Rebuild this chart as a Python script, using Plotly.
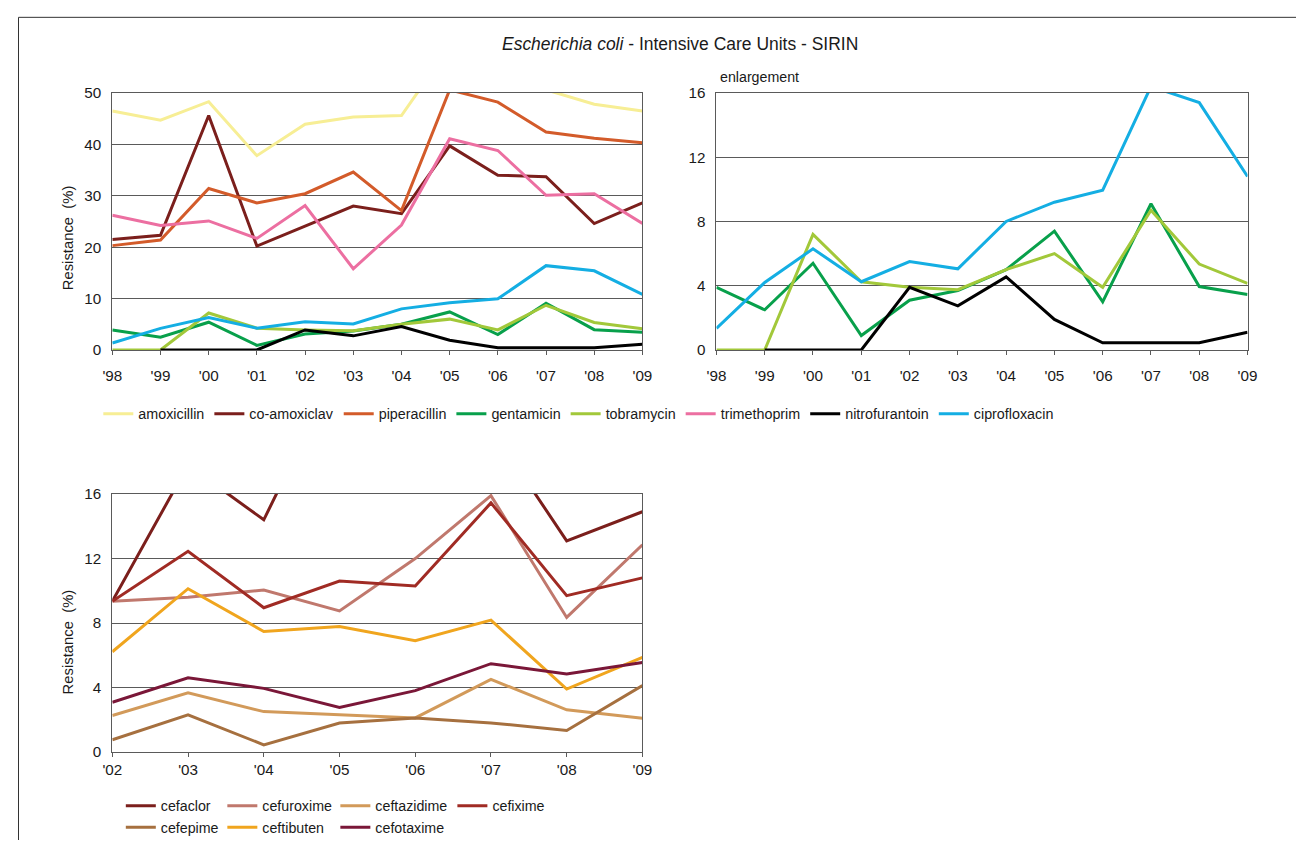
import plotly.graph_objects as go

# ---------------- data ----------------
years_top = ["'98", "'99", "'00", "'01", "'02", "'03", "'04", "'05", "'06", "'07", "'08", "'09"]
years_bottom = ["'02", "'03", "'04", "'05", "'06", "'07", "'08", "'09"]

amoxicillin = [46.5, 44.7, 48.3, 37.8, 43.9, 45.3, 45.6, 59.0, 57.0, 50.6, 47.8, 46.5]
co_amoxiclav = [21.5, 22.3, 45.6, 20.2, 24.1, 28.0, 26.5, 39.7, 34.0, 33.7, 24.6, 28.6]
piperacillin = [20.3, 21.4, 31.4, 28.6, 30.4, 34.6, 27.1, 50.6, 48.2, 42.4, 41.2, 40.3]
gentamicin = [3.9, 2.5, 5.4, 0.9, 3.1, 3.7, 5.0, 7.4, 3.0, 9.1, 3.95, 3.45]
tobramycin = [0.0, 0.0, 7.2, 4.25, 3.9, 3.75, 5.0, 6.0, 3.9, 8.7, 5.35, 4.15]
trimethoprim = [26.2, 24.2, 25.1, 21.7, 28.1, 15.8, 24.3, 41.1, 38.8, 30.1, 30.4, 24.6]
nitrofurantoin = [None, 0.0, 0.0, 0.0, 3.9, 2.75, 4.55, 1.9, 0.45, 0.45, 0.45, 1.1]
ciprofloxacin = [1.35, 4.2, 6.3, 4.25, 5.5, 5.05, 8.0, 9.2, 9.95, 16.4, 15.4, 10.8]

cefaclor = [9.35, 17.8, 14.4, 24.0, 22.0, 20.1, 13.1, 14.9]
cefuroxime = [9.35, 9.6, 10.05, 8.75, 12.0, 15.9, 8.35, 12.85]
ceftazidime = [2.27, 3.67, 2.51, 2.31, 2.12, 4.51, 2.62, 2.1]
cefixime = [9.35, 12.45, 8.95, 10.6, 10.3, 15.45, 9.7, 10.8]
cefepime = [0.76, 2.31, 0.45, 1.8, 2.12, 1.81, 1.34, 4.12]
ceftibuten = [6.22, 10.13, 7.48, 7.78, 6.9, 8.18, 3.91, 5.87]
cefotaxime = [3.09, 4.61, 3.95, 2.76, 3.81, 5.48, 4.84, 5.56]

# ---------------- styling ----------------
W, H = 1298, 840                  # figure fits the window inside the default body margin
OFFX, SCALEX = 17.7, 0.9844       # observed mapping: picture x = OFFX + SCALEX * figure x
OFFY, SCALEY = 16.1, 0.9795       # observed mapping: picture y = OFFY + SCALEY * figure y
FONT = "Liberation Sans, Arial, sans-serif"
GRID = "#5a5a5a"
TXT = "#1a1a1a"


def fx(p):
    """picture pixel x -> paper fraction"""
    return ((p - OFFX) / SCALEX) / W


def fy(p):
    """picture pixel y -> paper fraction"""
    return 1 - ((p - OFFY) / SCALEY) / H


def fs(size):
    return size / SCALEX


top_series = [
    ("amoxicillin", amoxicillin, "#F7EE95"),
    ("co-amoxiclav", co_amoxiclav, "#7B1F1C"),
    ("piperacillin", piperacillin, "#D35B2A"),
    ("gentamicin", gentamicin, "#08A04B"),
    ("tobramycin", tobramycin, "#A2C83A"),
    ("trimethoprim", trimethoprim, "#EC6FA1"),
    ("nitrofurantoin", nitrofurantoin, "#000000"),
    ("ciprofloxacin", ciprofloxacin, "#14AEE3"),
]
enlarged = ["gentamicin", "tobramycin", "nitrofurantoin", "ciprofloxacin"]

bottom_series = [
    ("cefaclor", cefaclor, "#7B1F1C", "legend2"),
    ("cefuroxime", cefuroxime, "#C0786D", "legend3"),
    ("ceftazidime", ceftazidime, "#D29A5A", "legend4"),
    ("cefixime", cefixime, "#A02B24", "legend5"),
    ("cefepime", cefepime, "#A6703F", "legend2"),
    ("ceftibuten", ceftibuten, "#F0A51E", "legend3"),
    ("cefotaxime", cefotaxime, "#7A1738", "legend4"),
]

fig = go.Figure()

for name, vals, color in top_series:
    fig.add_trace(go.Scatter(x=years_top, y=vals, mode="lines", name=name,
                             line=dict(color=color, width=3),
                             xaxis="x", yaxis="y", legend="legend"))

for name, vals, color in top_series:
    if name in enlarged:
        fig.add_trace(go.Scatter(x=years_top, y=vals, mode="lines", name=name,
                                 line=dict(color=color, width=3), showlegend=False,
                                 xaxis="x2", yaxis="y2"))

for name, vals, color, lg in bottom_series:
    fig.add_trace(go.Scatter(x=years_bottom, y=vals, mode="lines", name=name,
                             line=dict(color=color, width=3),
                             xaxis="x3", yaxis="y3", legend=lg))

tickfont = dict(family=FONT, size=fs(15), color=TXT)


def xax(dom, anchor, n, standoff):
    return dict(domain=dom, anchor=anchor, type="category", range=[0, n - 1],
                showgrid=False, showline=True, mirror=True, linecolor=GRID, linewidth=1,
                ticks="outside", ticklen=4, tickcolor=GRID, tickwidth=1,
                ticklabelstandoff=standoff, tickfont=tickfont, fixedrange=True)


def yax(dom, anchor, rng, dtick):
    return dict(domain=dom, anchor=anchor, range=rng, dtick=dtick,
                showgrid=True, gridcolor=GRID, gridwidth=1, zeroline=False,
                showline=True, mirror=True, linecolor=GRID, linewidth=1,
                ticks="", ticklabelstandoff=7, tickfont=tickfont, fixedrange=True)


dom_x_left = [fx(112), fx(642)]
dom_x_right = [fx(716), fx(1247)]
dom_y_top = [fy(349), fy(92)]
dom_y_bot = [fy(751), fy(493)]

legend_common = dict(bgcolor="rgba(0,0,0,0)", borderwidth=0)
bottom_legend_font = dict(family=FONT, size=fs(14), color=TXT)

fig.update_layout(
    width=W, height=H, autosize=False,
    margin=dict(l=0, r=0, t=0, b=0, pad=0),
    paper_bgcolor="white", plot_bgcolor="white",
    xaxis=xax(dom_x_left, "y", len(years_top), 8),
    yaxis=yax(dom_y_top, "x", [0, 50], 10),
    xaxis2=xax(dom_x_right, "y2", len(years_top), 8),
    yaxis2=yax(dom_y_top, "x2", [0, 16], 4),
    xaxis3=xax(dom_x_left, "y3", len(years_bottom), 0),
    yaxis3=yax(dom_y_bot, "x3", [0, 16], 4),
    legend=dict(orientation="h", x=fx(98), xanchor="left", y=fy(413), yanchor="middle",
                font=dict(family=FONT, size=fs(14.1), color=TXT), **legend_common),
    legend2=dict(orientation="v", x=fx(120.5), xanchor="left", y=fy(789), yanchor="top",
                 font=bottom_legend_font, **legend_common),
    legend3=dict(orientation="v", x=fx(222), xanchor="left", y=fy(789), yanchor="top",
                 font=bottom_legend_font, **legend_common),
    legend4=dict(orientation="v", x=fx(335), xanchor="left", y=fy(789), yanchor="top",
                 font=bottom_legend_font, **legend_common),
    legend5=dict(orientation="v", x=fx(452), xanchor="left", y=fy(789), yanchor="top",
                 font=bottom_legend_font, **legend_common),
    showlegend=True,
    annotations=[
        dict(text="<i>Escherichia coli</i> - Intensive Care Units - SIRIN",
             x=fx(680), y=fy(43), xref="paper", yref="paper", xanchor="center", yanchor="middle",
             showarrow=False, font=dict(family=FONT, size=fs(17.2), color=TXT)),
        dict(text="enlargement", x=fx(718), y=fy(76), xref="paper", yref="paper",
             xanchor="left", yanchor="middle", showarrow=False,
             font=dict(family=FONT, size=fs(14), color=TXT)),
        dict(text="Resistance\u00a0 (%)", x=fx(68), y=fy(237), xref="paper", yref="paper",
             xanchor="center", yanchor="middle", textangle=-90, showarrow=False,
             font=dict(family=FONT, size=fs(14.6), color=TXT)),
        dict(text="Resistance\u00a0 (%)", x=fx(68), y=fy(641), xref="paper", yref="paper",
             xanchor="center", yanchor="middle", textangle=-90, showarrow=False,
             font=dict(family=FONT, size=fs(14.6), color=TXT)),
    ],
    shapes=[
        dict(type="line", xref="paper", yref="paper", x0=0.0004, x1=0.0004, y0=0, y1=0.9996,
             line=dict(color="#333333", width=1)),
        dict(type="line", xref="paper", yref="paper", x0=0.0004, x1=1, y0=0.9996, y1=0.9996,
             line=dict(color="#333333", width=1)),
    ],
)

fig.write_html("out.html", include_plotlyjs=True, config={"displayModeBar": False})
